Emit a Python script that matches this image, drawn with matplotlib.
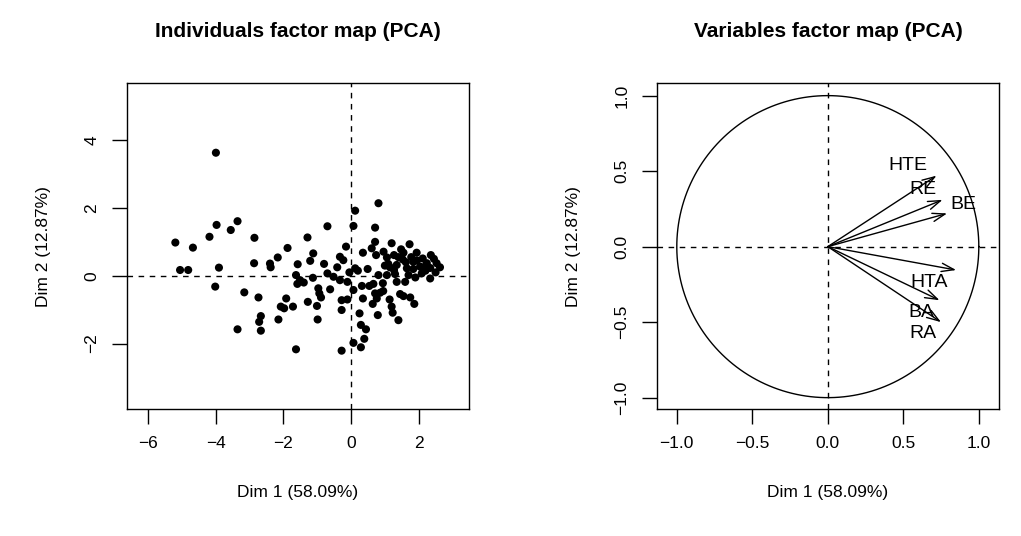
import numpy as np
import matplotlib
matplotlib.use("Agg")
import matplotlib.pyplot as plt

plt.rcParams['font.family'] = ['Liberation Sans', 'DejaVu Sans']

# individuals: coordinates on Dim 1 / Dim 2
dim1 = [-4.00, -5.20, -4.68, -5.06, -4.82, -4.19, -3.98, -3.56, -3.36, -3.91,
        -4.02, -3.16, -3.36, -2.86, -2.87, -2.38, -2.40, -2.17, -1.88, -1.29,
        -0.70, -1.12, -1.21, -1.58, -1.63, -1.51, -1.59, -1.13, -0.70, -0.41,
        -0.33, -0.15, -0.23, -0.52, -0.33, -0.11, -2.74, -2.67, -2.72, -2.67,
        -2.15, -2.08, -1.92, -1.98, -1.72, -1.28, -1.01, -0.99, -0.97, -0.89,
        -0.62, -0.94, -0.28, -0.11, -0.28, -1.63, -0.28, 0.07, 0.29, 0.39,
        0.44, 0.29, 0.25, 0.07, 0.35, 0.32, 0.54, 0.66, 0.71, 0.86,
        0.64, 0.76, 0.79, 0.94, 1.14, 1.20, 1.23, 1.40, 1.45, 1.55,
        1.75, 1.87, 1.35, 1.60, 2.34, 0.12, 0.81, 0.07, 0.71, 0.12,
        0.49, 0.35, 0.61, 0.71, 0.74, 0.96, 1.20, 1.06, 1.27, 1.48,
        1.73, 1.53, 1.94, 2.12, 2.36, 2.53, 2.63, 2.34, 2.04, 1.84,
        1.65, 1.15, 1.35, 1.27, 0.81, 1.06, 1.70, 2.09, 1.84, 1.55,
        2.24, 2.45, 1.40, 1.95, 2.20, 1.10, 1.62, 1.00, 2.50, 1.78,
        -0.05, 0.20, -1.40, -0.80, 1.90, 2.15, 1.30, 0.95]
dim2 = [3.63, 0.98, 0.83, 0.17, 0.17, 1.15, 1.50, 1.35, 1.61, 0.24,
        -0.32, -0.49, -1.58, 1.12, 0.37, 0.25, 0.36, 0.54, 0.82, 1.13,
        1.46, 0.66, 0.44, 0.34, 0.02, -0.13, -0.24, -0.06, 0.07, 0.25,
        0.56, 0.86, 0.46, -0.03, -0.13, -0.18, -0.64, -1.19, -1.36, -1.62,
        -1.29, -0.91, -0.67, -0.96, -0.91, -0.77, -0.89, -1.29, -0.37, -0.64,
        -0.40, -0.52, -0.72, -0.70, -1.01, -2.17, -2.21, -1.98, -2.11, -1.86,
        -1.58, -1.45, -1.11, -0.42, -0.67, -0.30, -0.30, -0.24, -0.52, -0.50,
        -0.83, -0.67, -1.16, -0.22, -0.70, -0.91, -1.09, -1.31, -0.54, -0.60,
        -0.64, -0.83, -0.18, -0.18, -0.08, 1.92, 2.14, 1.47, 1.42, 0.22,
        0.20, 0.68, 0.81, 1.00, 0.61, 0.71, 0.96, 0.54, 0.61, 0.78,
        0.93, 0.48, 0.68, 0.51, 0.61, 0.37, 0.25, 0.23, 0.27, 0.20,
        0.22, 0.25, 0.32, 0.17, 0.02, 0.02, 0.02, 0.07, 0.41, 0.68,
        0.37, 0.50, 0.55, 0.45, 0.15, 0.35, 0.40, 0.30, 0.10, 0.55,
        0.10, 0.15, -0.20, 0.35, -0.05, 0.25, 0.05, -0.45]

# variables: correlations with Dim 1 / Dim 2
var_names = ['HTE', 'RE', 'BE', 'HTA', 'BA', 'RA']
var_d1 = [0.72, 0.76, 0.79, 0.85, 0.74, 0.75]
var_d2 = [0.47, 0.31, 0.22, -0.155, -0.355, -0.50]
# label nudges (from arrow tip), as in the R output
lab_dx = [-0.19, -0.13, 0.11, -0.18, -0.12, -0.12]
lab_dy = [0.07, 0.07, 0.06, -0.08, -0.08, -0.075]

fig = plt.figure(figsize=(10.21, 5.36), dpi=100)
ax1 = fig.add_axes([0.1244, 0.237, 0.335, 0.6077])
ax2 = fig.add_axes([0.6432, 0.237, 0.3353, 0.6077])

fs_tick = 12.5
fs_lab = 12.5

# individuals factor map
ax1.scatter(dim1, dim2, s=34, c='black', edgecolors='none', zorder=3)
ax1.axhline(0, color='black', ls=(0, (4, 4)), lw=1)
ax1.axvline(0, color='black', ls=(0, (4, 4)), lw=1)
ax1.set_xlim(-6.63, 3.49)
ax1.set_ylim(-3.93, 5.68)
ax1.set_xticks([-6, -4, -2, 0, 2])
ax1.set_xticklabels(['\u22126', '\u22124', '\u22122', '0', '2'])
ax1.set_yticks([-2, 0, 2, 4])
ax1.set_yticklabels(['\u22122', '0', '2', '4'], rotation=90, va='center')
ax1.set_title('Individuals factor map (PCA)', fontsize=15, fontweight='bold', pad=33)
ax1.set_xlabel('Dim 1 (58.09%)', fontsize=fs_lab, labelpad=24)
ax1.set_ylabel('Dim 2 (12.87%)', fontsize=fs_lab, labelpad=24)

# variables factor map
t = np.linspace(0, 2 * np.pi, 400)
ax2.plot(np.cos(t), np.sin(t), color='black', lw=1)
ax2.axhline(0, color='black', ls=(0, (4, 4)), lw=1)
ax2.axvline(0, color='black', ls=(0, (4, 4)), lw=1)
for name, x, y, dx, dy in zip(var_names, var_d1, var_d2, lab_dx, lab_dy):
    ax2.annotate('', xy=(x, y), xytext=(0, 0),
                 arrowprops=dict(arrowstyle='->,head_length=0.9,head_width=0.3',
                                 color='black', lw=1, shrinkA=0, shrinkB=0))
    ax2.text(x + dx, y + dy, name, fontsize=14, ha='center', va='center')
ax2.set_xlim(-1.133, 1.134)
ax2.set_ylim(-1.075, 1.082)
ax2.set_xticks([-1, -0.5, 0, 0.5, 1])
ax2.set_xticklabels(['\u22121.0', '\u22120.5', '0.0', '0.5', '1.0'])
ax2.set_yticks([-1, -0.5, 0, 0.5, 1])
ax2.set_yticklabels(['\u22121.0', '\u22120.5', '0.0', '0.5', '1.0'], rotation=90, va='center')
ax2.set_title('Variables factor map (PCA)', fontsize=15, fontweight='bold', pad=33)
ax2.set_xlabel('Dim 1 (58.09%)', fontsize=fs_lab, labelpad=24)
ax2.set_ylabel('Dim 2 (12.87%)', fontsize=fs_lab, labelpad=24)

for ax in (ax1, ax2):
    ax.tick_params(direction='out', length=10.8, width=1, labelsize=fs_tick, pad=9)
    for sp in ax.spines.values():
        sp.set_linewidth(1)

fig.savefig('out.png', dpi=100)
